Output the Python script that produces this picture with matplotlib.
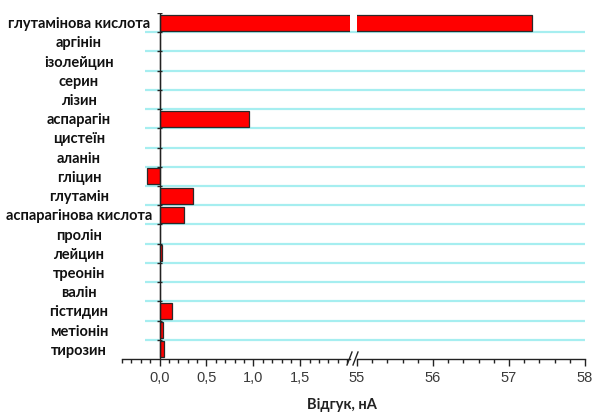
import matplotlib
matplotlib.use("Agg")
import matplotlib.pyplot as plt
from matplotlib.lines import Line2D
import numpy as np

categories = ["глутамінова кислота", "аргінін", "ізолейцин", "серин", "лізин",
              "аспарагін", "цистеїн", "аланін", "гліцин", "глутамін",
              "аспарагінова кислота", "пролін", "лейцин", "треонін", "валін",
              "гістидин", "метіонін", "тирозин"]
values = [57.3, 0.0, 0.0, 0.0, 0.0, 0.95, 0.0, 0.0, -0.13, 0.36, 0.26, 0.0,
          0.025, 0.0, 0.0, 0.13, 0.04, 0.045]
left_ticks = [0.0, 0.5, 1.0, 1.5]
left_ticklabels = ["0,0", "0,5", "1,0", "1,5"]
right_ticks = [55, 56, 57, 58]
right_ticklabels = ["55", "56", "57", "58"]
xlabel = "Відгук, нА"

W, H = 595, 412
fig = plt.figure(figsize=(W / 100, H / 100), dpi=100)

bottom = 1 - 359 / H
top = 1 - 13 / H
ax1 = fig.add_axes([122 / W, bottom, 228 / W, top - bottom])
ax2 = fig.add_axes([357 / W, bottom, 228 / W, top - bottom])

n = len(categories)
ypos = np.arange(n)
grid_c = "#a6eef0"
tick_color = "#3a3a3a"
label_font = "Lato"

for ax in (ax1, ax2):
    ax.barh(ypos, values, height=0.84, color="#ff0000", edgecolor="#2a2a2a",
            linewidth=0.9, zorder=3)
    ax.set_ylim(n - 0.5, -0.5)
    for s in ("top", "right", "left"):
        ax.spines[s].set_visible(False)
    ax.spines["bottom"].set_color("#222222")
    ax.spines["bottom"].set_linewidth(1.0)
    ax.tick_params(axis="x", which="major", direction="out", length=5,
                   width=1.0, color="#222222", labelsize=10.5,
                   labelcolor=tick_color, pad=4)
    ax.tick_params(axis="x", which="minor", direction="out", length=3,
                   width=1.0, color="#222222")

ax1.set_xlim(-0.4, 2.03)
ax2.set_xlim(55, 58)
ax1.set_xticks(left_ticks)
ax1.set_xticklabels(left_ticklabels, family="Liberation Sans")
ax1.set_xticks(np.arange(-0.4, 2.01, 0.1), minor=True)
ax2.set_xticks(right_ticks)
ax2.set_xticklabels(right_ticklabels, family="Liberation Sans")
ax2.set_xticks(np.arange(55, 58.01, 0.2), minor=True)

# gridlines at category boundaries
bounds = np.arange(0.5, n - 0.5, 1.0)
ax1.hlines(bounds, -0.155, 2.03 + 7 / 93.8, colors=grid_c, linewidth=1.6,
           zorder=1, clip_on=False)
ax2.hlines(bounds, 55, 58, colors=grid_c, linewidth=1.6, zorder=1)

# y labels
ax1.set_yticks(ypos)
ax1.set_yticklabels(categories, ha="center", fontsize=10.5, fontweight="bold",
                    family=label_font, color="#111111")
ax1.tick_params(axis="y", length=0, pad=31)
ax2.set_yticks([])

# vertical axis at zero with boundary tick marks
ax1.axvline(0, color="#222222", linewidth=1.0, zorder=4)
ax1.hlines(np.arange(-0.5, n - 0.5, 1.0), -0.03, 0.03, colors="#222222",
           linewidth=1.0, zorder=5)

# break marks
for dx in (0, 6):
    x0 = 347 + dx
    fig.add_artist(Line2D([x0 / W, (x0 + 5) / W],
                          [1 - 365 / H, 1 - 352 / H],
                          transform=fig.transFigure, color="#222222",
                          linewidth=1.0))

fig.text(342 / W, 1 - 405 / H, xlabel, ha="center", va="center",
         fontsize=10.5, fontweight="bold", family=label_font, color="#222222")

fig.savefig("out.png", dpi=100)
